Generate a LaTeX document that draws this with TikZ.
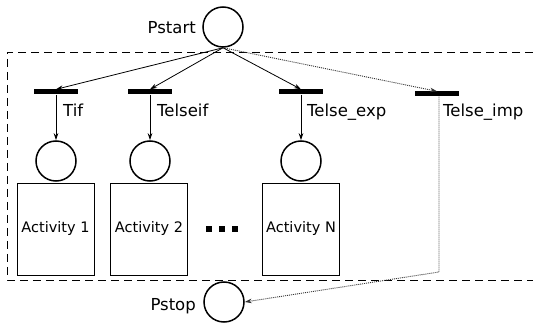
\documentclass[tikz,border=0pt]{standalone}
\usepackage{fontspec}
\setmainfont{DejaVu Sans}
\usetikzlibrary{arrows.meta, positioning}

\begin{document}
\begin{tikzpicture}[x=1pt, y=-1pt,
  place/.style={draw, circle, line width=1.5pt, minimum size=40pt, inner sep=0pt},
  trans/.style={fill=black, minimum width=44pt, minimum height=5pt, inner sep=0pt},
  lbl/.style={font=\fontsize{16.5}{19}\selectfont, inner sep=0pt},
  actbox/.style={draw, line width=0.8pt, minimum width=77pt, minimum height=92pt, inner sep=0pt, font=\fontsize{14.5}{17}\selectfont},
  flow/.style={-{Stealth[length=7pt, width=4.5pt]}, line width=0.8pt},
  implicit/.style={-{Stealth[length=7pt, width=4.5pt]}, gray!40!black, dash pattern=on 1pt off 1pt, line width=0.9pt}
]
  \useasboundingbox (0,0) rectangle (533,323);

  % scope of the branching
  \draw[line width=0.8pt, dash pattern=on 8pt off 5pt] (533,52) -- (7,52) -- (7,280) -- (533,280);

  % start and stop places
  \node[place] (pstart) at (223,27) {};
  \node[lbl, anchor=base east] (pstartlbl) at (196,34) {Pstart};
  \node[place] (pstop) at (224,302) {};
  \node[lbl, anchor=base east] (pstoplbl) at (196,310) {Pstop};

  % transitions
  \node[trans] (tif) at (56,92) {};
  \node[trans] (telseif) at (150,92) {};
  \node[trans] (texp) at (301,92) {};
  \node[trans] (timp) at (437,94) {};
  \node[lbl, anchor=base west] (tiflbl) at (63,117) {Tif};
  \node[lbl, anchor=base west] (telseiflbl) at (157,117) {Telseif};
  \node[lbl, anchor=base west] (texplbl) at (307,117) {Telse\_exp};
  \node[lbl, anchor=base west] (timplbl) at (443,117) {Telse\_imp};

  % activity places and boxes
  \node[place] (p1) at (56,161) {};
  \node[place] (p2) at (150,161) {};
  \node[place] (pn) at (301,161) {};
  \node[actbox] (act1) at (55.5,229) {Activity 1};
  \node[actbox] (act2) at (149,229) {Activity 2};
  \node[actbox] (actn) at (301,229) {Activity N};
  \foreach \x in {209,222,235}
    \fill (\x-3,226) rectangle (\x+3,232);

  % arcs
  \draw[flow] (pstart.south) -- (tif.north);
  \draw[flow] (pstart.south) -- (telseif.north);
  \draw[flow] (pstart.south) -- (texp.north);
  \draw[implicit] (pstart.south) -- (timp.north);
  \draw[flow] (tif.south) -- (p1.north);
  \draw[flow] (telseif.south) -- (p2.north);
  \draw[flow] (texp.south) -- (pn.north);
  \coordinate (bend) at (439,272);
  \draw[implicit] (timp.south -| bend) -- (bend) -- (pstop.east);
\end{tikzpicture}
\end{document}
